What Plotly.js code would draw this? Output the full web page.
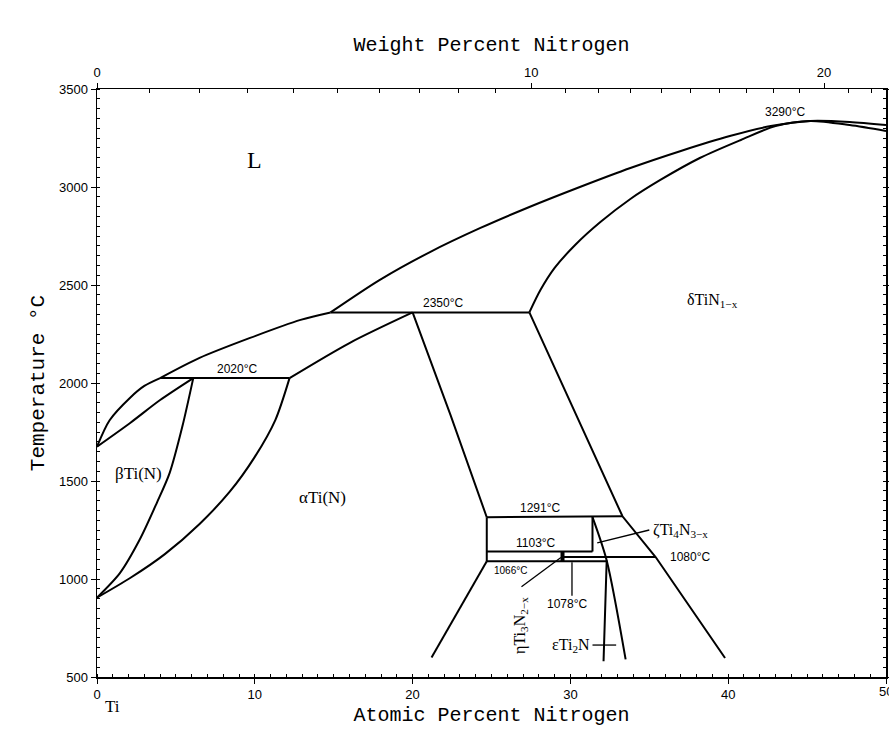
<!DOCTYPE html>
<html><head><meta charset="utf-8">
<script src="https://cdn.plot.ly/plotly-3.0.1.min.js"></script>
<style>body{margin:0;background:#fff}#chart{width:889px;height:731px}</style>
</head><body><div id="chart"></div>
<script>
// ---- phase boundaries (atomic % N, temperature °C) ----
const liqBetaX = [0, 0.8, 2.1, 3.0, 4.0];
const liqBetaT = [1675, 1810, 1925, 1985, 2025];
const solBetaX = [0, 2.1, 4.0, 6.1];
const solBetaT = [1675, 1796, 1913, 2025];
const betaTransusX = [0, 1.45, 2.7, 3.8, 4.6, 5.4, 6.1];
const betaTransusT = [905, 1030, 1200, 1390, 1540, 1775, 2025];
const alphaTransusX = [0, 2.1, 4.3, 6.5, 8.4, 10.0, 11.3, 12.2];
const alphaTransusT = [905, 1005, 1127, 1281, 1444, 1623, 1811, 2025];
const peri2020X = [4.0, 12.2];
const peri2020T = [2025, 2025];
const liqAlphaX = [4.0, 6.5, 9.7, 12.9, 14.8];
const liqAlphaT = [2025, 2128, 2230, 2322, 2360];
const solAlphaX = [12.2, 16.0, 20.0];
const solAlphaT = [2025, 2204, 2360];
const peri2350X = [14.8, 27.4];
const peri2350T = [2360, 2360];
const liqDeltaX = [14.8, 17.9, 21.1, 24.3, 27.4, 30.6, 33.8, 37.0, 40.1, 42.7, 45.2, 47.7, 50];
const liqDeltaT = [2360, 2525, 2668, 2791, 2898, 3000, 3097, 3184, 3260, 3311, 3337, 3332, 3316];
const solDeltaX = [27.4, 28.1, 29.0, 30.3, 31.9, 33.8, 35.7, 38.2, 40.8, 43.0, 45.2, 47.7, 50];
const solDeltaT = [2360, 2474, 2587, 2704, 2821, 2939, 3036, 3148, 3240, 3311, 3337, 3316, 3286];
const alphaDeltaX = [20.0, 22.4, 24.7];
const alphaDeltaT = [2360, 1837, 1315];
const deltaLeftX = [27.4, 33.3, 35.4, 39.8];
const deltaLeftT = [2360, 1320, 1112, 597];
const line1291X = [24.7, 33.3];
const line1291T = [1315, 1320];
const leftVertX = [24.7, 24.7];
const leftVertT = [1315, 1090];
const line1103X = [24.7, 31.4];
const line1103T = [1140, 1140];
const line1080X = [29.5, 35.4];
const line1080T = [1112, 1112];
const line1066X = [24.7, 32.3];
const line1066T = [1090, 1090];
const zetaVertX = [31.4, 31.4];
const zetaVertT = [1316, 1140];
const zetaSlantX = [31.4, 32.3, 33.5];
const zetaSlantT = [1316, 1095, 590];
const epsLeftX = [32.3, 32.1];
const epsLeftT = [1095, 580];
const lowLeftX = [24.7, 21.2];
const lowLeftT = [1090, 600];
const etaX = [29.5, 29.5];
const etaT = [1140, 1090];
// ---- pointer lines ----
const ptrZetaX = [31.7, 35.0];
const ptrZetaT = [1184, 1250];
const ptrEtaX = [29.4, 26.9];
const ptrEtaT = [1110, 960];
const ptr1078X = [30.1, 30.1];
const ptr1078T = [1085, 915];
const ptrEpsX = [31.4, 32.9];
const ptrEpsT = [663, 663];
// ---- ticks ----
const atTicks = [0, 10, 20, 30, 40, 50];
const tTicks = [500, 1000, 1500, 2000, 2500, 3000, 3500];
const wtMajor = [0, 10, 20];
const wtMinor = [1,2,3,4,5,6,7,8,9,11,12,13,14,15,16,17,18,19,21,22];

const MN = 14.007, MTi = 47.867;
function wt2at(w){ const n = w/MN, t = (100-w)/MTi; return 100*n/(n+t); }

const curved = [
 [liqBetaX, liqBetaT],[solBetaX, solBetaT],[betaTransusX, betaTransusT],[alphaTransusX, alphaTransusT],
 [liqAlphaX, liqAlphaT],[solAlphaX, solAlphaT],[liqDeltaX, liqDeltaT],[solDeltaX, solDeltaT],[alphaDeltaX, alphaDeltaT],
 [zetaSlantX, zetaSlantT]
];
const straight = [
 [peri2020X, peri2020T],[peri2350X, peri2350T],[deltaLeftX, deltaLeftT],
 [line1291X, line1291T],[leftVertX, leftVertT],[line1103X, line1103T],[line1080X, line1080T],
 [line1066X, line1066T],[zetaVertX, zetaVertT],[epsLeftX, epsLeftT],[lowLeftX, lowLeftT]
];
const traces = [];
curved.forEach(([x,y]) => traces.push({x, y, type:'scatter', mode:'lines', line:{color:'#000', width:2, shape:'spline', smoothing:0.8}, showlegend:false}));
straight.forEach(([x,y]) => traces.push({x, y, type:'scatter', mode:'lines', line:{color:'#000', width:2}, showlegend:false}));
traces.push({x:etaX, y:etaT, type:'scatter', mode:'lines', line:{color:'#000', width:4}, showlegend:false});
[[ptrZetaX, ptrZetaT],[ptrEtaX, ptrEtaT],[ptr1078X, ptr1078T],[ptrEpsX, ptrEpsT]].forEach(([x,y]) =>
  traces.push({x, y, type:'scatter', mode:'lines', line:{color:'#000', width:1.3}, showlegend:false}));
// top axis carrier
traces.push({x:[0,50], y:[500,500], xaxis:'x2', type:'scatter', mode:'lines', line:{width:0}, showlegend:false, hoverinfo:'skip'});

const serif = 'Liberation Serif, serif';
const sans = 'Liberation Sans, Arial, sans-serif';
const mono = 'Liberation Mono, Courier New, monospace';
function ann(text, x, y, opt){ return Object.assign({text, x, y, xref:'x', yref:'y', showarrow:false, font:{family:sans, size:12, color:'#000'}}, opt||{}); }
const annotations = [
 ann('2020°C', 8.9, 2071),
 ann('2350°C', 21.9, 2408),
 ann('3290°C', 43.6, 3383),
 ann('1291°C', 28.1, 1362),
 ann('1103°C', 27.8, 1184),
 ann('1066°C', 26.2, 1041, {font:{family:sans, size:10, color:'#000'}}),
 ann('1078°C', 29.8, 872),
 ann('1080°C', 37.6, 1112),
 ann('1670°C', -3.1, 1679),
 ann('882°C', -2.8, 903),
 ann('50', 50, 500, {yshift:-14, font:{family:sans, size:13, color:'#000'}}),
 ann('L', 10.0, 3138, {font:{family:serif, size:24, color:'#000'}}),
 ann('βTi(N)', 2.6, 1536, {font:{family:serif, size:17, color:'#000'}}),
 ann('αTi(N)', 14.3, 1418, {font:{family:serif, size:17, color:'#000'}}),
 ann('δTiN<sub>1−x</sub>', 39.0, 2423, {font:{family:serif, size:16, color:'#000'}}),
 ann('ζTi<sub>4</sub>N<sub>3−x</sub>', 35.1, 1250, {xanchor:'left', font:{family:serif, size:16, color:'#000'}}),
 ann('εTi<sub>2</sub>N', 31.4, 663, {xanchor:'right', font:{family:serif, size:16, color:'#000'}}),
 ann('ηTi<sub>3</sub>N<sub>2−x</sub>', 26.8, 765, {textangle:-90, font:{family:serif, size:16, color:'#000'}}),
 {text:'Ti', xref:'paper', yref:'paper', x:0.008, y:-0.07, showarrow:false, font:{family:serif, size:17, color:'#000'}}
];

const layout = {
  width:889, height:731, margin:{l:97, r:3, t:89, b:54},
  paper_bgcolor:'#fff', plot_bgcolor:'#fff', showlegend:false,
  xaxis:{range:[0,50], showline:true, linecolor:'#000', linewidth:1.5, mirror:false, showgrid:false, zeroline:false,
    tickmode:'array', tickvals:atTicks, ticks:'outside', ticklen:5, tickcolor:'#000',
    tickfont:{family:sans, size:13, color:'#000'},
    minor:{dtick:1, ticks:'inside', ticklen:3, tickcolor:'#000'},
    title:{text:'Atomic Percent Nitrogen', font:{family:mono, size:20, color:'#000'}, standoff:6}},
  xaxis2:{range:[0,50], overlaying:'x', side:'top', showline:true, linecolor:'#000', linewidth:1.5, showgrid:false, zeroline:false,
    tickmode:'array', tickvals:wtMajor.map(wt2at), ticktext:wtMajor.map(String), ticks:'outside', ticklen:5, tickcolor:'#000',
    tickfont:{family:sans, size:13, color:'#000'},
    minor:{tickmode:'array', tickvals:wtMinor.map(wt2at), ticks:'inside', ticklen:4, tickcolor:'#000'},
    title:{text:'Weight Percent Nitrogen', font:{family:mono, size:20, color:'#000'}, standoff:8}},
  yaxis:{range:[500,3500], showline:true, linecolor:'#000', linewidth:1.5, mirror:'ticks', showgrid:false, zeroline:false,
    tickmode:'array', tickvals:tTicks, ticks:'outside', ticklen:5, tickcolor:'#000',
    tickfont:{family:sans, size:13, color:'#000'},
    minor:{dtick:50, ticks:'inside', ticklen:3, tickcolor:'#000'},
    title:{text:'Temperature °C', font:{family:mono, size:21, color:'#000'}, standoff:8}},
  annotations
};
Plotly.newPlot('chart', traces, layout, {displayModeBar:false, staticPlot:true});
</script></body></html>
